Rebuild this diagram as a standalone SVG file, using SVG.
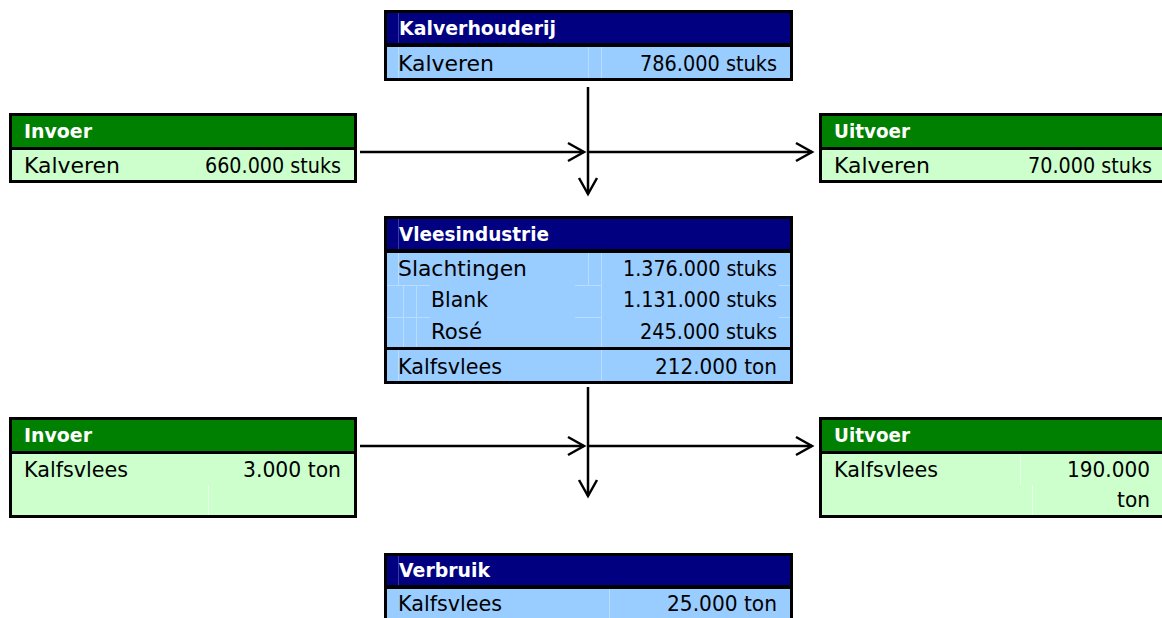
<svg xmlns="http://www.w3.org/2000/svg" width="1162" height="618" viewBox="0 0 1162 618">
<style>
.frame{fill:#000}
.navy{fill:#000080}
.green{fill:#008000}
.lb{fill:#99CCFF}
.lg{fill:#CCFFCC}
.h{font-family:"DejaVu Sans","Liberation Sans",sans-serif;font-weight:bold;font-size:20px;fill:#fff}
.t{font-family:"DejaVu Sans","Liberation Sans",sans-serif;font-size:22px;fill:#000}
.r{text-anchor:end}
.gb{stroke:#B9DDFF;stroke-width:1;fill:none}
.gg{stroke:#E8FFE8;stroke-width:1;fill:none}
.gn{stroke:#3A3AA0;stroke-width:1;fill:none}
.conn{stroke:#000;stroke-width:2.5;fill:none}
</style>
<defs>
<marker id="ah" markerUnits="userSpaceOnUse" markerWidth="24" markerHeight="24" viewBox="-20 -12 24 24" refX="0" refY="0" orient="auto">
<path d="M-16,-9 L0,0 L-16,9" fill="none" stroke="#000" stroke-width="2.5"/>
</marker>
</defs>
<rect width="1162" height="618" fill="#fff"/>

<g id="kalverhouderij">
<rect class="frame" x="384" y="10" width="409" height="71"/>
<rect class="navy" x="387" y="13" width="403" height="30"/>
<rect class="lb" x="387" y="47" width="403" height="31"/>
<path class="gn" d="M398.5,13V43"/>
<path class="gb" d="M398.5,47V78M588.5,47V78M601.5,47V78"/>
<text class="h" x="399" y="35" textLength="157" lengthAdjust="spacingAndGlyphs">Kalverhouderij</text>
<text class="t" x="398" y="71" textLength="96" lengthAdjust="spacingAndGlyphs">Kalveren</text>
<text class="t r" x="777" y="71" textLength="137" lengthAdjust="spacingAndGlyphs">786.000 stuks</text>
</g>

<g id="invoer-kalveren">
<rect class="frame" x="9" y="113" width="348" height="70"/>
<rect class="green" x="12" y="116" width="342" height="31"/>
<rect class="lg" x="12" y="150" width="342" height="30"/>
<text class="h" x="24" y="138" textLength="68" lengthAdjust="spacingAndGlyphs">Invoer</text>
<text class="t" x="24" y="173" textLength="96" lengthAdjust="spacingAndGlyphs">Kalveren</text>
<text class="t r" x="341" y="173" textLength="136" lengthAdjust="spacingAndGlyphs">660.000 stuks</text>
</g>

<g id="uitvoer-kalveren">
<rect class="frame" x="819" y="113" width="343" height="70"/>
<rect class="green" x="822" y="116" width="340" height="31"/>
<rect class="lg" x="822" y="150" width="340" height="30"/>
<text class="h" x="834" y="138" textLength="76" lengthAdjust="spacingAndGlyphs">Uitvoer</text>
<text class="t" x="834" y="173" textLength="96" lengthAdjust="spacingAndGlyphs">Kalveren</text>
<text class="t r" x="1152" y="173" textLength="124" lengthAdjust="spacingAndGlyphs">70.000 stuks</text>
</g>

<g id="vleesindustrie">
<rect class="frame" x="384" y="216" width="409" height="168"/>
<rect class="navy" x="387" y="219" width="403" height="30"/>
<rect class="lb" x="387" y="253" width="403" height="94"/>
<rect class="lb" x="387" y="350" width="403" height="31"/>
<path class="gn" d="M398.5,219V249"/>
<path class="gb" d="M398.5,253V285M588.5,253V285M601.5,253V347M403.5,285V347M416.5,285V347M387,285.5H430M387,317.5H430M575,285.5H601M575,317.5H601M779,285.5H790M779,317.5H790M398.5,350V381M601.5,350V381"/>
<text class="h" x="399" y="241" textLength="150" lengthAdjust="spacingAndGlyphs">Vleesindustrie</text>
<text class="t" x="398" y="276" textLength="129" lengthAdjust="spacingAndGlyphs">Slachtingen</text>
<text class="t r" x="777" y="276" textLength="154" lengthAdjust="spacingAndGlyphs">1.376.000 stuks</text>
<text class="t" x="431" y="307" textLength="57" lengthAdjust="spacingAndGlyphs">Blank</text>
<text class="t r" x="777" y="307" textLength="154" lengthAdjust="spacingAndGlyphs">1.131.000 stuks</text>
<text class="t" x="431" y="339" textLength="51" lengthAdjust="spacingAndGlyphs">Rosé</text>
<text class="t r" x="777" y="339" textLength="137" lengthAdjust="spacingAndGlyphs">245.000 stuks</text>
<text class="t" x="398" y="374" textLength="104" lengthAdjust="spacingAndGlyphs">Kalfsvlees</text>
<text class="t r" x="777" y="374" textLength="122" lengthAdjust="spacingAndGlyphs">212.000 ton</text>
</g>

<g id="invoer-kalfsvlees">
<rect class="frame" x="9" y="417" width="348" height="101"/>
<rect class="green" x="12" y="420" width="342" height="31"/>
<rect class="lg" x="12" y="454" width="342" height="61"/>
<path class="gg" d="M208.5,485V515"/>
<text class="h" x="24" y="442" textLength="68" lengthAdjust="spacingAndGlyphs">Invoer</text>
<text class="t" x="24" y="477" textLength="104" lengthAdjust="spacingAndGlyphs">Kalfsvlees</text>
<text class="t r" x="341" y="477" textLength="98" lengthAdjust="spacingAndGlyphs">3.000 ton</text>
</g>

<g id="uitvoer-kalfsvlees">
<rect class="frame" x="819" y="417" width="343" height="101"/>
<rect class="green" x="822" y="420" width="340" height="31"/>
<rect class="lg" x="822" y="454" width="340" height="61"/>
<path class="gg" d="M1020.5,454V485M1032.5,485V515"/>
<text class="h" x="834" y="442" textLength="76" lengthAdjust="spacingAndGlyphs">Uitvoer</text>
<text class="t" x="834" y="477" textLength="104" lengthAdjust="spacingAndGlyphs">Kalfsvlees</text>
<text class="t r" x="1150" y="477" textLength="83" lengthAdjust="spacingAndGlyphs">190.000</text>
<text class="t r" x="1150" y="507" textLength="33" lengthAdjust="spacingAndGlyphs">ton</text>
</g>

<g id="verbruik">
<rect class="frame" x="384" y="553" width="409" height="65"/>
<rect class="navy" x="387" y="556" width="403" height="29"/>
<rect class="lb" x="387" y="589" width="403" height="29"/>
<path class="gn" d="M398.5,556V585"/>
<path class="gb" d="M609.5,589V618"/>
<text class="h" x="399" y="577" textLength="91" lengthAdjust="spacingAndGlyphs">Verbruik</text>
<text class="t" x="398" y="611" textLength="104" lengthAdjust="spacingAndGlyphs">Kalfsvlees</text>
<text class="t r" x="777" y="611" textLength="110" lengthAdjust="spacingAndGlyphs">25.000 ton</text>
</g>

<g id="connectors">
<path class="conn" d="M588,87V194" marker-end="url(#ah)"/>
<path class="conn" d="M360,152H584" marker-end="url(#ah)"/>
<path class="conn" d="M588,152H812" marker-end="url(#ah)"/>
<path class="conn" d="M588,387V496" marker-end="url(#ah)"/>
<path class="conn" d="M360,446H584" marker-end="url(#ah)"/>
<path class="conn" d="M588,446H812" marker-end="url(#ah)"/>
</g>
</svg>
